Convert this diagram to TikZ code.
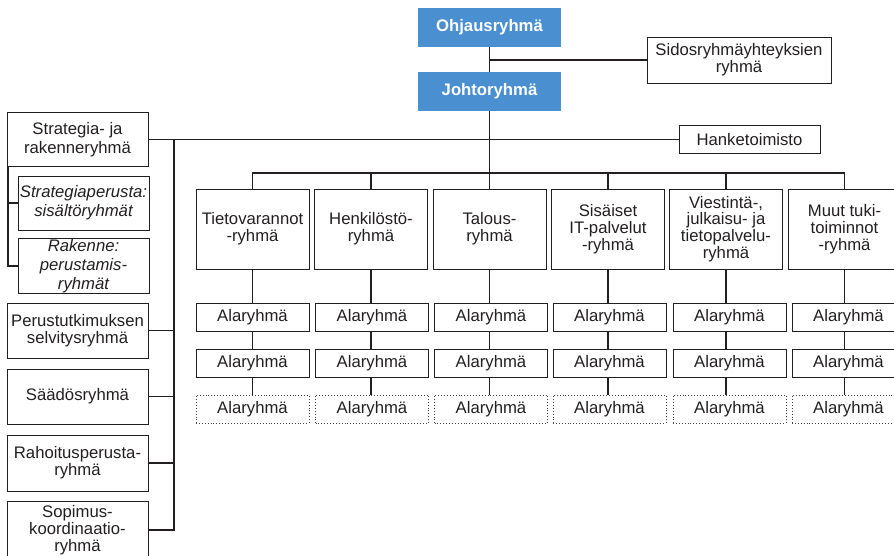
\documentclass[tikz,border=0pt]{standalone}
\usepackage{fontspec}
\setmainfont{Liberation Sans}
\definecolor{leadblue}{RGB}{74,144,208}
\definecolor{ink}{RGB}{35,31,32}
\tikzset{
  base/.style={font=\fontsize{16.7}{16.7}\selectfont, align=center, inner sep=1pt, text=ink},
  lead/.style={base, fill=leadblue, text=white, font=\fontsize{16.7}{16.7}\selectfont\bfseries,
    minimum width=143pt, minimum height=39pt},
  box/.style={base, draw=ink, line width=0.9pt},
  sidebox/.style={box, minimum width=141pt},
  stratbox/.style={sidebox, font=\fontsize{16.7}{18.5}\selectfont},
  subbox/.style={box, minimum width=131pt, minimum height=54pt,
    font=\fontsize{16.7}{19}\selectfont\itshape},
  unit/.style={box, minimum width=113pt, minimum height=80pt},
  subgrp/.style={box, minimum width=113pt, minimum height=28pt},
  subopt/.style={subgrp, dotted, draw=ink!85},
  link/.style={draw=ink, line width=1.1pt},
}
\begin{document}
\begin{tikzpicture}[x=1pt, y=-1pt]
\useasboundingbox (0,0) rectangle (894,555);
\clip (0,0) rectangle (894,555);

% steering and management
\node[lead] (ohj) at (489.5,27) {Ohjausryhmä};
\node[lead] (joh) at (489.5,91.5) {Johtoryhmä};
\node[box, minimum width=184pt, minimum height=46pt] (sid) at (739,60) {Sidosryhmäyhteyksien\\ryhmä};
\node[box, minimum width=141pt, minimum height=28pt] (han) at (749.5,139.5) {Hanketoimisto};

% left column of groups
\node[stratbox, minimum height=54pt] (str) at (77.5,139.5) {Strategia- ja\\rakenneryhmä};
\node[subbox] (sp1) at (83.5,203) {Strategiaperusta:\\sisältöryhmät};
\node[subbox] (sp2) at (83.5,266) {Rakenne:\\perustamis-\\ryhmät};
\node[sidebox, minimum height=55pt] (per) at (77.5,330.5) {Perustutkimuksen\\selvitysryhmä};
\node[sidebox, minimum height=55pt] (saa) at (77.5,396.5) {Säädösryhmä};
\node[sidebox, minimum height=56pt] (rah) at (77.5,463) {Rahoitusperusta-\\ryhmä};
\node[sidebox, minimum height=58pt] (sop) at (77.5,530) {Sopimus-\\koordinaatio-\\ryhmä};

% support units with their subgroups
\foreach \i/\x/\ax/\txt in {
  1/252.5/252.5/{Tietovarannot\\-ryhmä},
  2/371/372/{Henkilöstö-\\ryhmä},
  3/489.5/491/{Talous-\\ryhmä},
  4/608/609.5/{Sisäiset\\IT-palvelut\\-ryhmä},
  5/726/729.5/{Viestintä-,\\julkaisu- ja\\tietopalvelu-\\ryhmä},
  6/844.5/848.5/{Muut tuki-\\toiminnot\\-ryhmä}} {
  \node[unit] (u\i) at (\x,229) {\txt};
  \node[subgrp] (a\i) at (\ax,317) {Alaryhmä};
  \node[subgrp] (b\i) at (\ax,363) {Alaryhmä};
  \node[subopt] (c\i) at (\ax,409) {Alaryhmä};
  \draw[link] (u\i.south) -- (u\i.south |- a\i.north);
  \draw[link] (u\i.south |- a\i.south) -- (u\i.south |- b\i.north);
  \draw[link] (u\i.south |- b\i.south) -- (u\i.south |- c\i.north);
}

% connectors
\coordinate (bar) at (489.5,173);
\coordinate (bus) at (174,139.5);
\coordinate (sbus) at (8,166.5);
\draw[link] (ohj.south) -- (joh.north);
\draw[link] (sid.west) -- (sid.west -| ohj.south);
\draw[link] (str.east) -- (han.west);
\draw[link] (joh.south) -- (bar);
\draw[link] (u1.north) |- (bar) -| (u6.north);
\foreach \i in {2,...,5} \draw[link] (u\i.north) -- (u\i.north |- bar);
\draw[link] (bus) |- (sop.east);
\foreach \n in {per,saa,rah} \draw[link] (\n.east) -- (\n.east -| bus);
\draw[link] (sbus) |- (sp2.west);
\draw[link] (sp1.west) -- (sp1.west -| sbus);
\end{tikzpicture}
\end{document}
